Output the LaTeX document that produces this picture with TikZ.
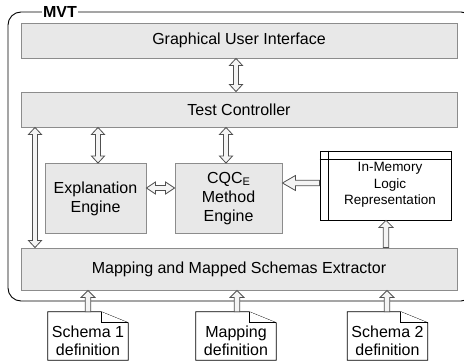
\documentclass[tikz,border=0pt]{standalone}
\usepackage{fontspec}
\setmainfont{Liberation Sans}
\usetikzlibrary{calc}
\definecolor{boxfill}{RGB}{232,232,232}
\definecolor{boxline}{RGB}{140,140,140}
\definecolor{arrfill}{RGB}{244,244,244}
\definecolor{arrline}{RGB}{80,80,80}
\tikzset{
  box/.style={draw=boxline, fill=boxfill, line width=0.9pt, rectangle, inner sep=0pt, align=center, font=\fontsize{16}{19}\selectfont},
  harrow/.style={draw=arrline, fill=arrfill, line width=0.8pt, line join=miter},
  membox/.style={draw=black, fill=white, line width=0.8pt, rectangle, inner sep=0pt, minimum width=131pt, minimum height=69pt},
  memtext/.style={align=center, inner sep=0pt, font=\fontsize{13.5}{16.5}\selectfont},
  docnode/.style={rectangle, inner sep=0pt, minimum width=80pt, minimum height=48pt},
  docline/.style={draw=black, fill=white, line width=0.8pt},
  doctext/.style={align=center, inner sep=0pt, font=\fontsize{16}{18.5}\selectfont},
  frame/.style={draw=black, line width=0.9pt, rounded corners=13pt},
  mvtlabel/.style={fill=white, inner xsep=1.5pt, inner ysep=0pt, font=\bfseries\fontsize{16}{19}\selectfont}
}
% vertical double arrow: #1 upper anchor, #2 lower anchor, #3 x
\newcommand\vdarr[3]{%
 \draw[harrow] let \p1=#1, \p2=#2, \p3=(#3,0) in
 (\x3,\y1) -- (\x3+6.5pt,\y1-7pt) -- (\x3+2.5pt,\y1-7pt) -- (\x3+2.5pt,\y2+7pt) -- (\x3+6.5pt,\y2+7pt) -- (\x3,\y2) -- (\x3-6.5pt,\y2+7pt) -- (\x3-2.5pt,\y2+7pt) -- (\x3-2.5pt,\y1-7pt) -- (\x3-6.5pt,\y1-7pt) -- cycle;}
% horizontal double arrow: #1 left anchor, #2 right anchor, #3 y
\newcommand\hdarr[3]{%
 \draw[harrow] let \p1=#1, \p2=#2, \p3=(0,#3) in
 (\x1,\y3) -- (\x1+9pt,\y3+6pt) -- (\x1+9pt,\y3+2.5pt) -- (\x2-9pt,\y3+2.5pt) -- (\x2-9pt,\y3+6pt) -- (\x2,\y3) -- (\x2-9pt,\y3-6pt) -- (\x2-9pt,\y3-2.5pt) -- (\x1+9pt,\y3-2.5pt) -- (\x1+9pt,\y3-6pt) -- cycle;}
% single arrow up: #1 tip (upper), #2 tail (lower), #3 x
\newcommand\uparr[3]{%
 \draw[harrow] let \p1=#1, \p2=#2, \p3=(#3,0) in
 (\x3,\y1) -- (\x3+7pt,\y1-7pt) -- (\x3+2.8pt,\y1-7pt) -- (\x3+2.8pt,\y2) -- (\x3-2.8pt,\y2) -- (\x3-2.8pt,\y1-7pt) -- (\x3-7pt,\y1-7pt) -- cycle;}
% single arrow left: #1 tip (left), #2 tail (right), #3 y
\newcommand\leftarr[3]{%
 \draw[harrow] let \p1=#1, \p2=#2, \p3=(0,#3) in
 (\x1,\y3) -- (\x1+13pt,\y3+7.5pt) -- (\x1+13pt,\y3+2.8pt) -- (\x2,\y3+2.8pt) -- (\x2,\y3-2.8pt) -- (\x1+13pt,\y3-2.8pt) -- (\x1+13pt,\y3-7.5pt) -- cycle;}
% document shape around a node
\newcommand\docshape[1]{%
 \draw[docline] (#1.north west) -- ($(#1.north east)+(-27,0)$) -- ($(#1.north east)+(0,11)$) -- (#1.south east) -- (#1.south west) -- cycle;
 \draw[docline] ($(#1.north east)+(-27,0)$) -- ($(#1.north east)+(-27,11)$) -- ($(#1.north east)+(0,11)$);}
\begin{document}
\begin{tikzpicture}[x=1pt,y=-1pt]
\useasboundingbox (0,0) rectangle (464,364);
% outer frame
\draw[frame] (8,12) rectangle (474,301);
\node[mvtlabel] (mvt) at (60,12) {MVT};
% boxes
\node[box, minimum width=436pt, minimum height=35pt] (gui) at (239,40.5) {Graphical User Interface};
\node[box, minimum width=436pt, minimum height=35pt] (tc) at (239,109.5) {Test Controller};
\node[box, minimum width=101pt, minimum height=70pt] (expl) at (95.5,198.5) {Explanation\\Engine};
\node[box, minimum width=107pt, minimum height=70pt] (cqc) at (228.5,198.5) {CQC\raisebox{-0.25ex}{\fontsize{11}{11}\selectfont E}\\Method\\Engine};
\node[membox] (mem) at (385.5,185.5) {};
\draw[line width=0.8pt] ($(mem.north west)+(9,0)$) -- ($(mem.south west)+(9,0)$);
\draw[line width=0.8pt] ($(mem.north west)+(0,9)$) -- ($(mem.north east)+(0,9)$);
\node[memtext] (memt) at (390,185) {In-Memory\\Logic\\Representation};
\node[box, minimum width=436pt, minimum height=42pt] (map) at (239,269) {Mapping and Mapped Schemas Extractor};
% documents
\node[docnode] (doc1) at (88,336) {};
\node[docnode] (doc2) at (236,336) {};
\node[docnode] (doc3) at (387.5,336) {};
\docshape{doc1}
\docshape{doc2}
\docshape{doc3}
\node[doctext] (doc1t) at (88,341) {Schema 1\\definition};
\node[doctext] (doc2t) at (236,341) {Mapping\\definition};
\node[doctext] (doc3t) at (387.5,341) {Schema 2\\definition};
% arrows
\vdarr{(gui.south)}{(tc.north)}{236}
\vdarr{(tc.south)}{(expl.north)}{98}
\vdarr{(tc.south)}{(cqc.north)}{226}
\vdarr{(tc.south)}{(map.north)}{35}
\hdarr{(expl.east)}{(cqc.west)}{188}
\leftarr{(cqc.east)}{(mem.west)}{183}
\uparr{(mem.south)}{(map.north)}{386}
\uparr{(map.south)}{(doc1.north)}{88}
\uparr{(map.south)}{(doc2.north)}{237}
\uparr{(map.south)}{(doc3.north)}{387}
\end{tikzpicture}
\end{document}
